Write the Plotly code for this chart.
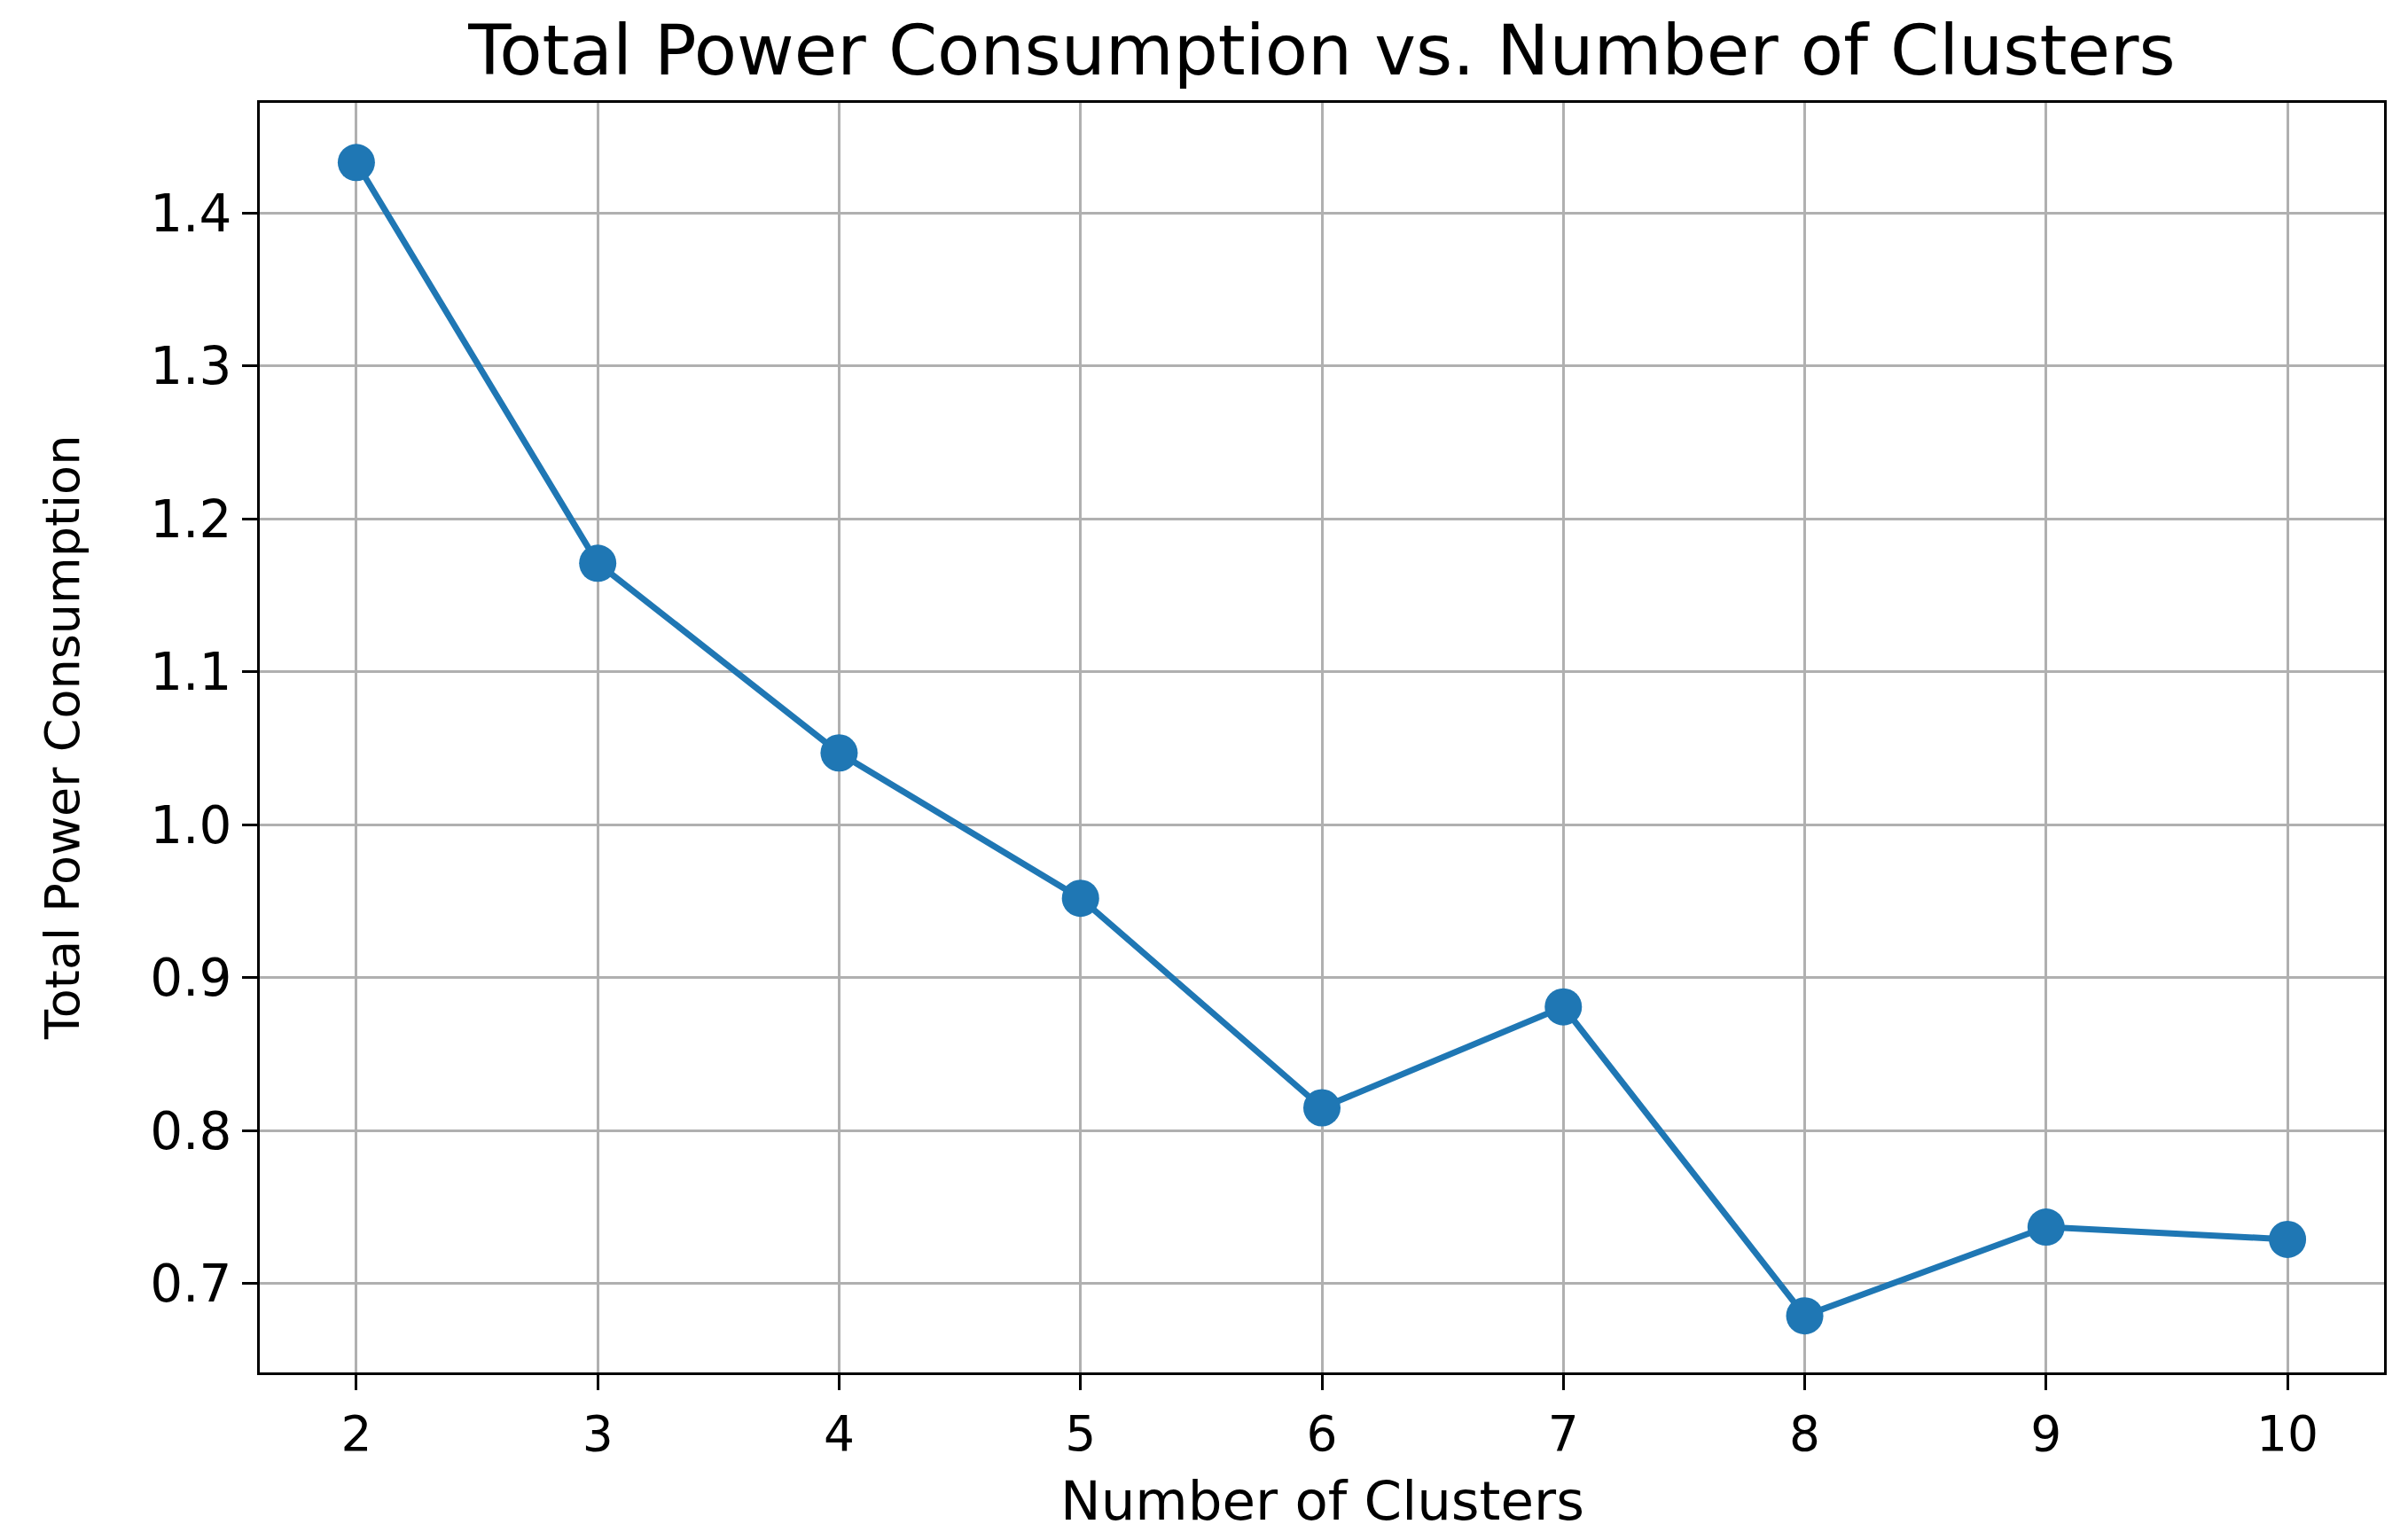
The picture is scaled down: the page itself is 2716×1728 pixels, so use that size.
import plotly.graph_objects as go

clusters = [2, 3, 4, 5, 6, 7, 8, 9, 10]
power = [1.433, 1.171, 1.047, 0.952, 0.815, 0.881, 0.679, 0.737, 0.729]
y_ticks = [0.7, 0.8, 0.9, 1.0, 1.1, 1.2, 1.3, 1.4]

FONT = "DejaVu Sans"
BLUE = "#1f77b4"
W, H = 2716, 1728
ML, MR, MT, MB = 285, 35, 108, 188

fig = go.Figure()
fig.add_trace(go.Scatter(
    x=clusters, y=power, mode="lines+markers",
    line=dict(color=BLUE, width=7),
    marker=dict(color=BLUE, size=42),
    showlegend=False,
))

axis_common = dict(
    showline=True, linecolor="black", linewidth=3, mirror=True,
    ticks="outside", ticklen=17, tickwidth=3, tickcolor="black",
    showgrid=True, gridcolor="#b0b0b0", gridwidth=3,
    zeroline=False,
)

fig.update_layout(
    width=W, height=H,
    paper_bgcolor="white", plot_bgcolor="white",
    margin=dict(l=ML, r=MR, t=MT, b=MB),
    title=dict(
        text="Total Power Consumption vs. Number of Clusters",
        x=0.5, xanchor="center", xref="paper",
        y=1 - 48 / H, yanchor="middle", yref="container",
        font=dict(family=FONT, size=79, color="black"),
    ),
    xaxis=dict(
        range=[1.6, 10.4], tickvals=clusters, ticktext=[str(c) for c in clusters],
        ticklabelstandoff=2,
        tickfont=dict(family=FONT, size=55, color="black"),
        **axis_common,
    ),
    yaxis=dict(
        range=[0.642, 1.472], tickvals=y_ticks, ticktext=[f"{v:.1f}" for v in y_ticks],
        tickfont=dict(family=FONT, size=58, color="black"),
        **axis_common,
    ),
    annotations=[
        dict(text="Number of Clusters", xref="paper", yref="paper",
             x=0.5, y=-(1684 - (H - MB)) / (H - MT - MB),
             xanchor="center", yanchor="middle", showarrow=False,
             font=dict(family=FONT, size=61, color="black")),
        dict(text="Total Power Consumption", xref="paper", yref="paper",
             x=-(ML - 62) / (W - ML - MR), y=0.5, textangle=-90,
             xanchor="center", yanchor="middle", showarrow=False,
             font=dict(family=FONT, size=54, color="black")),
    ],
)

fig.write_html("out.html")
